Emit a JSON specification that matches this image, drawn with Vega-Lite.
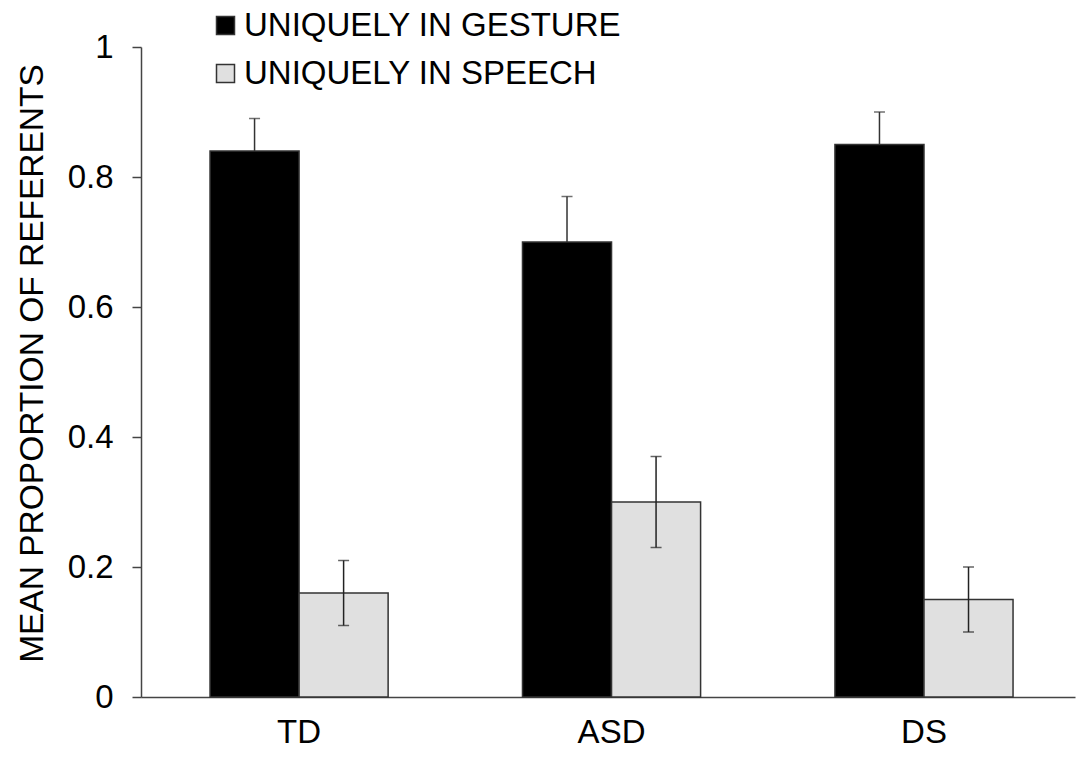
{
  "$schema": "https://vega.github.io/schema/vega-lite/v6.json",
  "width": 934,
  "height": 650,
  "autosize": {"type": "none"},
  "padding": {"left": 141, "top": 47, "right": 6, "bottom": 61},
  "background": "white",
  "config": {
    "view": {"stroke": null},
    "font": "Liberation Sans",
    "axis": {"labelFont": "Liberation Sans", "titleFont": "Liberation Sans", "labelColor": "#000", "titleColor": "#000", "grid": false}
  },
  "data": {
    "values": [
      {"group": "TD", "series": "UNIQUELY IN GESTURE", "value": 0.84, "lo": 0.79, "hi": 0.89},
      {"group": "TD", "series": "UNIQUELY IN SPEECH", "value": 0.16, "lo": 0.11, "hi": 0.21},
      {"group": "ASD", "series": "UNIQUELY IN GESTURE", "value": 0.70, "lo": 0.63, "hi": 0.77},
      {"group": "ASD", "series": "UNIQUELY IN SPEECH", "value": 0.30, "lo": 0.23, "hi": 0.37},
      {"group": "DS", "series": "UNIQUELY IN GESTURE", "value": 0.85, "lo": 0.80, "hi": 0.90},
      {"group": "DS", "series": "UNIQUELY IN SPEECH", "value": 0.15, "lo": 0.10, "hi": 0.20}
    ]
  },
  "encoding": {
    "x": {
      "field": "group", "type": "nominal", "sort": ["TD", "ASD", "DS"],
      "scale": {"paddingInner": 0.43, "paddingOuter": 0.2096, "align": 0.527},
      "axis": {"title": null, "labelAngle": 0, "labelFontSize": 33, "labelPadding": 19, "ticks": false, "domainColor": "#444", "domainWidth": 1.5}
    },
    "xOffset": {"field": "series", "type": "nominal", "sort": ["UNIQUELY IN GESTURE", "UNIQUELY IN SPEECH"]}
  },
  "layer": [
    {
      "transform": [{"filter": "datum.series == 'UNIQUELY IN GESTURE'"}],
      "mark": {"type": "rule", "color": "#333", "strokeWidth": 1.5},
      "encoding": {
        "y": {"field": "lo", "type": "quantitative", "scale": {"domain": [0, 1]}},
        "y2": {"field": "hi"}
      }
    },
    {
      "transform": [{"filter": "datum.series == 'UNIQUELY IN GESTURE'"}],
      "mark": {"type": "tick", "color": "#333", "thickness": 1.5, "size": 11, "orient": "horizontal"},
      "encoding": {"y": {"field": "hi", "type": "quantitative"}}
    },
    {
      "mark": {"type": "bar", "stroke": "#333", "strokeWidth": 1.5},
      "encoding": {
        "y": {
          "field": "value", "type": "quantitative",
          "scale": {"domain": [0, 1]},
          "axis": {
            "title": "MEAN PROPORTION OF REFERENTS", "values": [0, 0.2, 0.4, 0.6, 0.8, 1], "format": "~g",
            "labelFontSize": 33, "titleFontSize": 33.5, "titleFontWeight": "normal",
            "tickSize": 9, "tickColor": "#444", "tickWidth": 1.5, "domainColor": "#444", "domainWidth": 1.5,
            "labelPadding": 19, "titleX": -99, "titleY": 316, "titleBaseline": "alphabetic", "titleAlign": "center", "titleAngle": -90
          }
        },
        "fill": {
          "field": "series", "type": "nominal",
          "scale": {"domain": ["UNIQUELY IN GESTURE", "UNIQUELY IN SPEECH"], "range": ["#000000", "#e0e0e0"]},
          "legend": {
            "title": null, "orient": "none", "legendX": 68, "legendY": -38,
            "symbolType": "square", "symbolSize": 324, "symbolStrokeColor": "#333", "symbolStrokeWidth": 1.5,
            "labelFontSize": 33, "labelFont": "Liberation Sans", "labelColor": "#000", "labelOffset": 2, "rowPadding": 14, "labelLimit": 1000
          }
        }
      }
    },
    {
      "transform": [{"filter": "datum.series == 'UNIQUELY IN SPEECH'"}],
      "mark": {"type": "rule", "color": "#222", "strokeWidth": 1.5},
      "encoding": {
        "y": {"field": "lo", "type": "quantitative"},
        "y2": {"field": "hi"}
      }
    },
    {
      "transform": [{"filter": "datum.series == 'UNIQUELY IN SPEECH'"}],
      "mark": {"type": "tick", "color": "#222", "thickness": 1.5, "size": 11, "orient": "horizontal"},
      "encoding": {"y": {"field": "hi", "type": "quantitative"}}
    },
    {
      "transform": [{"filter": "datum.series == 'UNIQUELY IN SPEECH'"}],
      "mark": {"type": "tick", "color": "#222", "thickness": 1.5, "size": 11, "orient": "horizontal"},
      "encoding": {"y": {"field": "lo", "type": "quantitative"}}
    }
  ]
}
